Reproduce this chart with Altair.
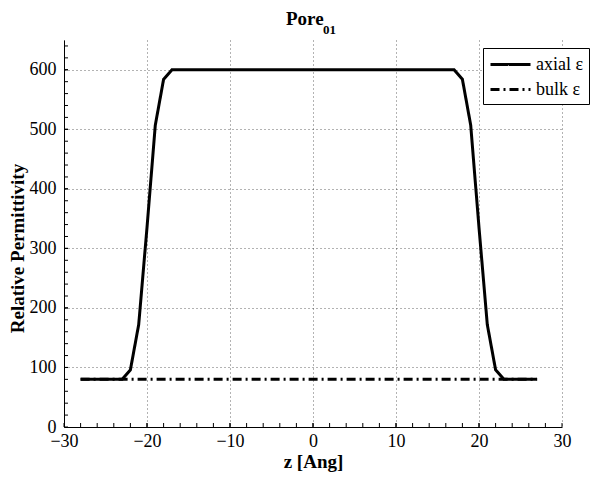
import altair as alt
import pandas as pd

# ---- data ----
z_axial = [-28, -23, -22, -21, -20, -19, -18, -17, 17, 18, 19, 20, 21, 22, 23, 27]
eps_axial = [80, 80, 96, 172, 335, 507, 584, 600, 600, 584, 507, 335, 172, 96, 80, 80]
z_bulk = [-28, 27]
eps_bulk = [80, 80]
series_names = ["axial \u03b5", "bulk \u03b5"]

x_major = [-30, -20, -10, 0, 10, 20, 30]
x_minor = list(range(-28, 30, 2))
y_major = [0, 100, 200, 300, 400, 500, 600]
y_minor = list(range(20, 650, 20))

W, H = 498, 387
FONT = "Liberation Serif"

df = pd.concat([
    pd.DataFrame({"z": z_axial, "eps": eps_axial, "series": series_names[0], "o": range(len(z_axial))}),
    pd.DataFrame({"z": z_bulk, "eps": eps_bulk, "series": series_names[1], "o": range(len(z_bulk))}),
])

xscale = alt.Scale(domain=[-30, 30], nice=False, zero=False)
yscale = alt.Scale(domain=[0, 650], nice=False, zero=False)

lines = alt.Chart(df).mark_line(strokeWidth=3, color="black", strokeCap="butt").encode(
    x=alt.X("z:Q", scale=xscale, title="z [Ang]",
            axis=alt.Axis(values=x_major, ticks=False, grid=True, labelFlush=False,
                          labelOverlap=False, labelPadding=5, titlePadding=2)),
    y=alt.Y("eps:Q", scale=yscale, title="Relative Permittivity",
            axis=alt.Axis(values=y_major, ticks=False, grid=True, labelPadding=8,
                          titleX=-37, titleY=208)),
    strokeDash=alt.StrokeDash("series:N",
        scale=alt.Scale(domain=series_names, range=[[1, 0], [9, 4, 2, 4]]),
        legend=alt.Legend(title=None, orient="none", legendX=419, legendY=8,
                          symbolType="M-0.9,0H3.1", symbolSize=400, symbolStrokeWidth=3,
                          symbolStrokeColor="black", symbolFillColor="transparent",
                          labelFont=FONT, labelFontSize=18,
                          labelColor="black", labelOffset=25, rowPadding=4,
                          strokeColor="black", padding=5, fillColor="white",
                          cornerRadius=0)),
    order="o:Q",
)

xt = pd.DataFrame({"t": x_minor + x_major})
yt = pd.DataFrame({"t": y_minor + y_major})

xticks = alt.Chart(xt).mark_rule(color="black", strokeWidth=1).encode(
    x=alt.X("t:Q", scale=xscale), y=alt.value(H), y2=alt.value(H - 4))
yticks = alt.Chart(yt).mark_rule(color="black", strokeWidth=1).encode(
    y=alt.Y("t:Q", scale=yscale), x=alt.value(0), x2=alt.value(4))

t1 = alt.Chart(pd.DataFrame({"s": ["Pore"]})).mark_text(
    font=FONT, fontSize=19, fontWeight="bold", align="left", baseline="alphabetic", color="black"
).encode(text="s:N", x=alt.value(222), y=alt.value(-15))
t2 = alt.Chart(pd.DataFrame({"s": ["01"]})).mark_text(
    font=FONT, fontSize=13, fontWeight="bold", align="left", baseline="alphabetic", color="black"
).encode(text="s:N", x=alt.value(259), y=alt.value(-6))

chart = alt.layer(lines, xticks, yticks, t1, t2).properties(
    width=W, height=H,
    autosize=alt.AutoSizeParams(type="none"),
    padding={"left": 56, "top": 32, "right": 30, "bottom": 50},
).configure_view(stroke=None).configure_axis(
    labelFont=FONT, labelFontSize=18, labelColor="black",
    titleFont=FONT, titleFontSize=19, titleFontWeight="bold", titleColor="black",
    domainColor="black", domainWidth=1,
    gridColor="black", gridOpacity=0.6, gridDash=[1, 3], gridWidth=1,
)

chart.save("out.html", embed_options={"renderer": "svg", "actions": False})
